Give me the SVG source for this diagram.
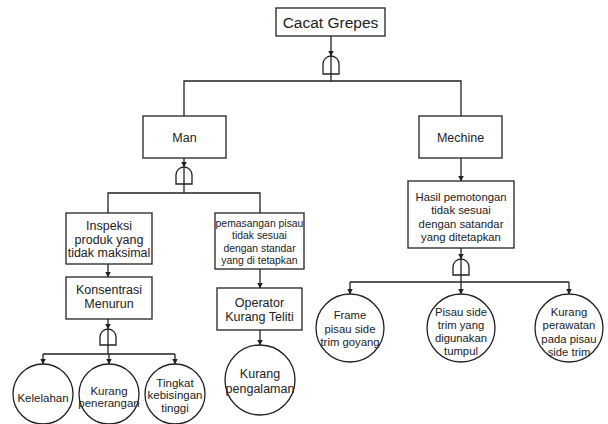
<svg xmlns="http://www.w3.org/2000/svg" width="608" height="424" viewBox="0 0 608 424">
<style>
.box{fill:#fff;stroke:#222;stroke-width:1.3}
.ev{fill:#fff;stroke:#222;stroke-width:1.3}
.gate{fill:none;stroke:#222;stroke-width:1.3}
.ln{fill:none;stroke:#222;stroke-width:1.3}
.ar{fill:none;stroke:#222;stroke-width:1.3;marker-end:url(#ah)}
text{font-family:"Liberation Sans",Arial,sans-serif;fill:#222;text-anchor:middle}
.t11{font-size:11.3px}
.t12{font-size:12.5px}
.tc{font-size:11.5px}
.tp{font-size:10.4px}
</style>
<defs>
<marker id="ah" markerWidth="6" markerHeight="6" refX="5.5" refY="3" orient="auto" markerUnits="userSpaceOnUse">
<path d="M0,0 L6,3 L0,6 Z" fill="#222"/>
</marker>
</defs>
<rect width="608" height="424" fill="#fff"/>
<g id="connectors">
<line class="ar" x1="331" y1="36" x2="331" y2="56"/>
<line class="ln" x1="331" y1="56" x2="331" y2="81"/>
<path class="gate" d="M323,74 L323,64 A8,8 0 0 1 339,64 L339,74 Z"/>
<polyline class="ln" points="184,116 184,81 461,81 461,116"/>
<line class="ar" x1="184" y1="158" x2="184" y2="167"/>
<line class="ln" x1="184" y1="167" x2="184" y2="193"/>
<path class="gate" d="M176,184 L176,175 A8,8 0 0 1 192,175 L192,184 Z"/>
<polyline class="ln" points="108,213 108,193 260,193 260,213"/>
<line class="ar" x1="108" y1="264" x2="108" y2="277"/>
<line class="ar" x1="108" y1="319" x2="108" y2="329"/>
<line class="ln" x1="108" y1="329" x2="108" y2="354"/>
<path class="gate" d="M100,345 L100,337 A8,8 0 0 1 116,337 L116,345 Z"/>
<line class="ln" x1="43" y1="354" x2="175" y2="354"/>
<line class="ar" x1="43" y1="354" x2="43" y2="364"/>
<line class="ar" x1="109" y1="354" x2="109" y2="364"/>
<line class="ar" x1="175" y1="354" x2="175" y2="364"/>
<line class="ar" x1="260" y1="269" x2="260" y2="288"/>
<line class="ar" x1="260" y1="330" x2="260" y2="345"/>
<line class="ar" x1="461" y1="158" x2="461" y2="181"/>
<line class="ar" x1="461" y1="248" x2="461" y2="259"/>
<line class="ln" x1="461" y1="259" x2="461" y2="282"/>
<path class="gate" d="M453,275 L453,267 A8,8 0 0 1 469,267 L469,275 Z"/>
<line class="ln" x1="350" y1="282" x2="569" y2="282"/>
<line class="ar" x1="350" y1="282" x2="350" y2="294"/>
<line class="ar" x1="461" y1="282" x2="461" y2="294"/>
<line class="ar" x1="569" y1="282" x2="569" y2="294"/>
</g>
<g id="cacat-grepes">
<rect class="box" x="276" y="8" width="109" height="28"/>
<text x="330.5" y="27.5" style="font-size:15.5px">Cacat Grepes</text>
</g>
<g id="man">
<rect class="box" x="143" y="116" width="83" height="42"/>
<text class="t12" x="184.5" y="141.5">Man</text>
</g>
<g id="mechine">
<rect class="box" x="419" y="116" width="83" height="42"/>
<text class="t12" x="460.5" y="141.5">Mechine</text>
</g>
<g id="inspeksi">
<rect class="box" x="66" y="213" width="86" height="51"/>
<text class="t12" x="109" y="230">Inspeksi</text>
<text class="t12" x="109" y="243.5">produk yang</text>
<text class="t12" x="109" y="257">tidak maksimal</text>
</g>
<g id="konsentrasi">
<rect class="box" x="66" y="277" width="86" height="42"/>
<text class="t12" x="109" y="294">Konsentrasi</text>
<text class="t12" x="109" y="308">Menurun</text>
</g>
<g id="kelelahan">
<circle class="ev" cx="43" cy="394" r="30"/>
<text class="tc" x="43" y="402">Kelelahan</text>
</g>
<g id="kurang-penerangan">
<circle class="ev" cx="109" cy="394" r="30"/>
<text class="tc" x="109" y="394.5">Kurang</text>
<text class="tc" x="109" y="406.5">penerangan</text>
</g>
<g id="tingkat-kebisingan">
<circle class="ev" cx="175" cy="394" r="30"/>
<text class="tc" x="175" y="386.5">Tingkat</text>
<text class="tc" x="175" y="399">kebisingan</text>
<text class="tc" x="175" y="411.5">tinggi</text>
</g>
<g id="pemasangan">
<rect class="box" x="215" y="213" width="89" height="56"/>
<text class="tp" x="259.5" y="226.5">pemasangan pisau</text>
<text class="tp" x="259.5" y="239">tidak sesuai</text>
<text class="tp" x="259.5" y="251.5">dengan standar</text>
<text class="tp" x="259.5" y="264">yang di tetapkan</text>
</g>
<g id="operator">
<rect class="box" x="217" y="288" width="85" height="42"/>
<text class="t12" x="259.5" y="307">Operator</text>
<text class="t12" x="259.5" y="321">Kurang Teliti</text>
</g>
<g id="kurang-pengalaman">
<circle class="ev" cx="260" cy="380" r="35"/>
<text x="260" y="378" style="font-size:12.5px">Kurang</text>
<text x="260" y="393" style="font-size:12.5px">pengalaman</text>
</g>
<g id="hasil">
<rect class="box" x="408" y="181" width="106" height="67"/>
<text class="t11" x="461" y="200.5">Hasil pemotongan</text>
<text class="t11" x="461" y="214">tidak sesuai</text>
<text class="t11" x="461" y="227.5">dengan satandar</text>
<text class="t11" x="461" y="241">yang ditetapkan</text>
</g>
<g id="frame">
<circle class="ev" cx="350" cy="328" r="34"/>
<text class="t11" x="350" y="319">Frame</text>
<text class="t11" x="350" y="332.5">pisau side</text>
<text class="t11" x="350" y="346">trim goyang</text>
</g>
<g id="pisau-side">
<circle class="ev" cx="461" cy="328" r="34"/>
<text class="t11" x="461" y="315.5">Pisau side</text>
<text class="t11" x="461" y="328.5">trim yang</text>
<text class="t11" x="461" y="341.5">digunakan</text>
<text class="t11" x="461" y="354.5">tumpul</text>
</g>
<g id="kurang-perawatan">
<circle class="ev" cx="569" cy="328" r="34"/>
<text class="t11" x="569" y="315.5">Kurang</text>
<text class="t11" x="569" y="329">perawatan</text>
<text class="t11" x="569" y="342.5">pada pisau</text>
<text class="t11" x="569" y="356">side trim</text>
</g>
</svg>
